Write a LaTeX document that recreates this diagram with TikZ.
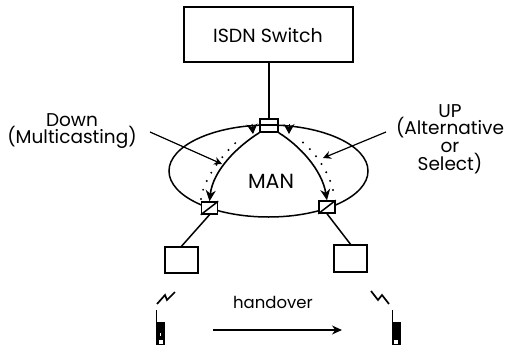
\documentclass[tikz,border=0pt]{standalone}
\usepackage{fontspec}
\setmainfont{Poppins}
\usetikzlibrary{arrows.meta,shapes.geometric}
\tikzset{
  box/.style = {draw, line width=1.5pt, inner sep=0pt},
  switchbox/.style = {box, minimum width=16pt, minimum height=12pt},
  label/.style = {font=\fontsize{18.5}{17.6}\selectfont, align=center, inner sep=0pt},
  link/.style = {line width=1.5pt},
  flow/.style = {line width=1.6pt, -{Stealth[length=11pt,width=10pt]}},
  dots/.style = {line width=2.2pt, line cap=round, dash pattern=on 0pt off 9.5pt},
  upcap/.style = {line width=1pt, -{Stealth[length=10pt,width=11pt]}},
  pointer/.style = {line width=1.2pt, -{Stealth[length=8pt,width=8pt]}}
}
\begin{document}
\begin{tikzpicture}[x=1pt, y=-1pt]
\useasboundingbox (0,0) rectangle (507,349);

\node[box, minimum width=169pt, minimum height=55pt] (switch) at (268.5,34.5) {};
\node[label, font=\fontsize{19}{20}\selectfont] (switchtext) at (268,35) {ISDN Switch};
\node[draw, ellipse, line width=1.5pt, minimum width=199pt, minimum height=92pt, inner sep=0pt] (man) at (268.5,171) {};
\node[label, font=\fontsize{20.5}{20}\selectfont] (mantext) at (271,181) {MAN};
\node[switchbox, fill=white, minimum width=18pt, minimum height=13pt] (top) at (269,125.5) {};
\node[switchbox, fill=white] (left) at (209.5,208) {};
\node[switchbox, fill=white] (right) at (327,207) {};
\node[box, minimum width=33pt, minimum height=26pt] (basel) at (181.5,260) {};
\node[box, minimum width=33pt, minimum height=27pt] (baser) at (350.5,258.5) {};

\node[label] (down) at (72,131) {Down\\(Multicasting)};
\node[label] (up) at (450,139) {UP\\(Alternative\\or\\Select)};
\node[label, font=\fontsize{16.5}{20}\selectfont] (hand) at (273,302) {handover};

\draw[link] (top.north west) ++(0,6.5) -- ++(18,0);
\draw[link] (left.south west) -- (left.north east);
\draw[link] (right.south west) -- (right.north east);

\draw[link] (switch.south -| top) -- (top);
\draw[link] (left.south) -- (basel.north);
\draw[link] (right.south) -- (baser.north);

% down
\draw[flow] (top.south west) .. controls (238,146) and (213,170) .. (left.north);
\draw[flow] (top.south east) .. controls (300,146) and (322,170) .. (right.north);

% up
\coordinate (ldot) at (201,199);
\coordinate (lend) at (242,137);
\coordinate (rdot) at (333,190);
\coordinate (rend) at (299,139);
\draw[dots] (ldot) .. controls (203,180) and (222,154) .. (lend);
\draw[dots] (rdot) .. controls (328,170) and (315,152) .. (rend);
\coordinate (lhead) at (252,124);
\coordinate (rhead) at (289,124);
\draw[upcap] (lhead) -- (253,134);
\draw[upcap] (rhead) -- (289,134);

\coordinate (downfrom) at (150,132);
\coordinate (downto) at (222,164);
\coordinate (upfrom) at (386,132);
\coordinate (upto) at (323,158);
\draw[pointer] (downfrom) -- (downto);
\draw[pointer] (upfrom) -- (upto);

\coordinate (handfrom) at (213,330);
\coordinate (handto) at (342,330);
\draw[pointer, -{Stealth[length=10pt,width=9pt]}] (handfrom) -- (handto);

% radio
\draw[link, line width=1.7pt] (157,304) -- (165,295) -- (167,300) -- (175,292);
\draw[link, line width=1.7pt] (371,291) -- (378,300) -- (382,295) -- (389,304);

% phones
\fill (156,322) rectangle (165,345);
\draw[line width=1.2pt] (156.5,322) -- (156.5,310);
\fill[white] (159,340) rectangle (163,343.5);
\fill[white] (159.5,333) rectangle (161,336);
\fill (392,322) rectangle (401,345);
\draw[line width=1.2pt] (392.5,322) -- (392.5,310);
\fill[white] (394,340) rectangle (398,343.5);
\end{tikzpicture}
\end{document}
